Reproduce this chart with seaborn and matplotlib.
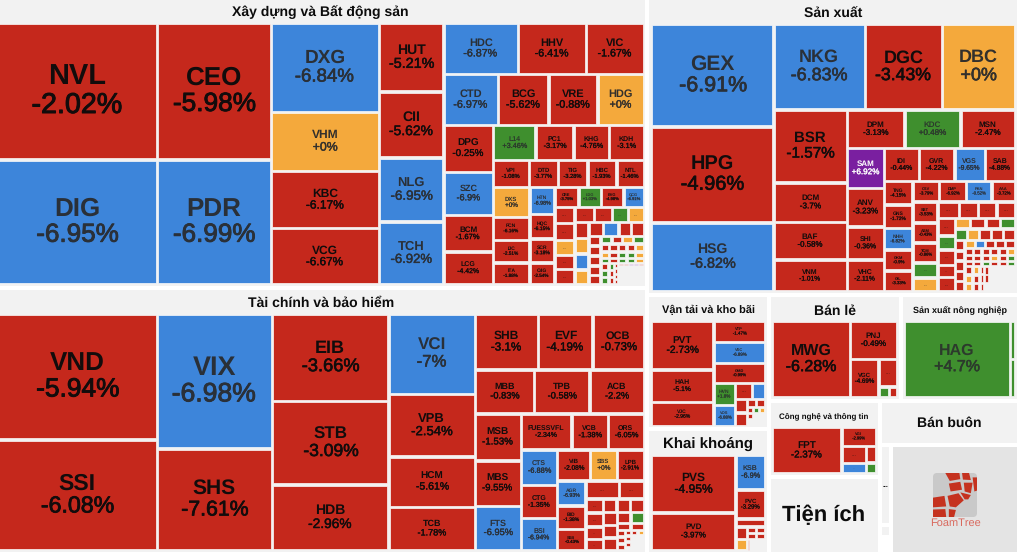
import pandas as pd
import seaborn as sns
import matplotlib.pyplot as plt
import matplotlib.patheffects as pe
from matplotlib.patches import FancyBboxPatch, Polygon

# Xay dung va Bat dong san
xd_names = ['NVL', 'DIG', 'CEO', 'PDR', 'DXG', 'VHM', 'KBC', 'VCG', 'HUT', 'CII', 'NLG', 'TCH',
            'HDC', 'HHV', 'VIC', 'CTD', 'BCG', 'VRE', 'HDG', 'DPG', 'SZC', 'BCM', 'LCG',
            'L14', 'PC1', 'KHG', 'KDH', 'VPI', 'DTD', 'TIG', 'HBC', 'NTL',
            'DXS', 'FCN', 'IJC', 'ITA', 'HTN', 'HQC', 'SCR', 'C4G', 'CRE', 'LDG', 'EVG', 'QCG']
xd_pct = [-2.02, -6.95, -5.98, -6.99, -6.84, 0, -6.17, -6.67, -5.21, -5.62, -6.95, -6.92,
          -6.87, -6.41, -1.67, -6.97, -5.62, -0.88, 0, -0.25, -6.9, -1.67, -4.42,
          3.46, -3.17, -4.76, -3.1, -1.08, -3.77, -3.28, -1.93, -1.46,
          0, -6.16, -2.51, -1.88, -6.98, -6.15, -3.18, -2.54, -3.75, 1.03, -4.98, -6.91]
xd_size = [21650, 19700, 15440, 14070, 9535, 6290, 6130, 6000, 4400, 4257, 4096, 4018,
           3777, 3448, 2915, 2780, 2575, 2500, 2346, 2300, 2130, 1780, 1624,
           1466, 1311, 1207, 1207, 972, 783, 797, 770, 742,
           1080, 810, 810, 785, 675, 600, 600, 545, 468, 439, 439, 400,
           320, 340, 300, 280, 306, 292, 270, 240, 240, 220, 215, 220, 205,
           203, 210, 175, 175, 115, 120, 120, 115, 110,
           80, 80, 80, 80, 69, 69, 69, 69, 69, 55, 55, 55, 55, 55, 45, 45, 45, 45, 45,
           57, 57, 57, 35, 35, 35, 26, 26, 26, 26, 14, 14, 14, 14, 14, 462]
xd_state = ('rb rb borr rrbb brr brro rbrr grrr rrrrr orrr brrr rgrb '
            'rrorr rrgo robo rbrr rrrrr grog rrrro orggo grggo rgg grr rrrr rrppr _')
xd_plan = [2, 2, 4, 4, [3, 4, [4, [4, 5, [4, 4, [4, [5, [4, [4, [4, [5, [4, 5, 5, 5, [3, 3, 4, [5, 1]]]]]]]]]]]]]]

# Tai chinh va bao hiem
tc_names = ['VND', 'SSI', 'VIX', 'SHS', 'EIB', 'STB', 'HDB', 'VCI', 'VPB', 'HCM', 'TCB',
            'SHB', 'EVF', 'OCB', 'MBB', 'TPB', 'ACB', 'MSB', 'MBS', 'FTS', 'FUESSVFL', 'VCB', 'ORS',
            'CTS', 'CTG', 'BSI', 'VIB', 'SBS', 'LPB', 'AGR', 'BID', 'SSB']
tc_pct = [-5.94, -6.08, -6.98, -7.61, -3.66, -3.09, -2.96, -7, -2.54, -5.61, -1.78,
          -3.1, -4.19, -0.73, -0.83, -0.58, -2.2, -1.53, -9.55, -6.95, -2.34, -1.38, -6.05,
          -6.88, -1.35, -6.94, -2.08, 0, -2.91, -6.93, -1.38, -0.43]
tc_size = [19860, 17480, 15377, 11600, 10092, 9663, 7575, 6863, 5375, 4300, 3724,
           3484, 3014, 2820, 2596, 2442, 2376, 2116, 2070, 2016, 1793, 1296, 1278,
           1278, 1188, 1163, 1006, 824, 824, 700, 672, 596,
           595, 437, 247, 240, 209, 195, 187, 187, 187, 182, 182, 182,
           143, 143, 91, 91, 52, 52, 52, 36, 36, 36, 36, 72, 36, 72, 61]
tc_state = ('rr br rrr brrr rrr rrr rrb rrr brb ror brr '
            'rr rrrr rrr rrr rg rr rrr rro r_ r_ _')
tc_plan = [2, 2, 3, 4, [3, 3, [3, [3, [3, [3, [3, [2, [4, [3, [3, [2, 2, [3, [3, 2, 2, 1]]]]]]]]]]]]]]

# San xuat
sx_names = ['GEX', 'HPG', 'HSG', 'NKG', 'DGC', 'DBC', 'BSR', 'DCM', 'BAF', 'VNM', 'DPM', 'KDC', 'MSN',
            'SAM', 'ANV', 'SHI', 'VHC', 'IDI', 'GVR', 'VGS', 'SAB', 'TNG', 'GNS', 'NHH', 'GKM', 'GIL',
            'CSV', 'DMP', 'PAN', 'AAA', 'SBT', 'ASM', 'TCM']
sx_pct = [-6.91, -4.96, -6.82, -6.83, -3.43, 0, -1.57, -3.7, -0.58, -1.01, -3.13, 0.48, -2.47,
          6.92, -3.23, -0.36, -2.11, -0.44, -4.22, -9.65, -4.88, -4.15, -1.72, -6.82, -0.9, -3.33,
          -3.79, -6.92, -0.52, -3.72, -3.53, -0.43, -0.86]
sx_size = [12520, 11693, 8380, 7808, 6607, 6246, 5329, 2870, 2752, 2321, 2214, 2137, 2110,
           1472, 1417, 1214, 1170, 1162, 1155, 1006, 1000, 674, 674, 617, 603, 597,
           543, 543, 523, 488, 525, 500, 500, 375, 345,
           347, 314, 305, 310, 298, 235, 265, 210, 240,
           160, 160, 155, 158, 139, 139, 139, 139, 139, 100, 100, 100, 100, 100,
           80, 80, 80, 80, 80, 58, 58, 58, 58, 58, 58, 50, 50, 50, 50, 50, 50, 42, 42, 42, 42, 42, 42,
           67, 67, 67, 58, 58, 58, 42, 42, 42, 33, 33, 33, 680]
sx_state = ('brb bro rrrr rgr prrr rrbr rrbrr rrbr rrr go '
            'rrrr rgrrr orrg gorrr rrrrr obrrr rrrrro rrrorg rrgrrg roo orr rrr rr_ _')
sx_plan = [3, [3, [4, [3, [4, [4, [5, [4, [5, [4, [5, [4, 5, [5, [5, 6, 6, 6, [3, 3, 3, 3, 1]]]]]]]]]]]]]]]

# Van tai va kho bai
vt_names = ['PVT', 'HAH', 'VJC', 'VTP', 'VSC', 'GMD', 'HVN', 'VOS']
vt_pct = [-2.73, -5.1, -2.96, -1.47, -6.89, -0.99, 1.8, -6.88]
vt_size = [2897, 1909, 1412, 1040, 1025, 975, 456, 430, 256, 190, 151, 151, 69, 69, 35, 35, 35, 35, 69, 108]
vt_state = 'rrr rbr gb rb rr rr rgo r_ _'
vt_plan = [3, [1, 1, 1, [2, [2, [2, [2, 3, 2, 1]]]]]]

# Khai khoang
kk_names = ['PVS', 'PVD', 'KSB', 'PVC']
kk_pct = [-4.95, -3.97, -6.9, -3.29]
kk_size = [4798, 3152, 1000, 820, 226, 143, 124, 60, 60, 52, 52, 30, 166]
kk_state = 'rr br r ro rr rr r_'
kk_plan = [2, [1, 1, 1, [2, [2, 2, 2]]]]

# Ban le
bl_names = ['MWG', 'PNJ', 'VGC']
bl_pct = [-6.28, -0.49, -4.69]
bl_size = [5730, 1731, 1058, 480, 108, 84]
bl_state = 'rrrrgr'
bl_plan = [1, [1, [1, [1, 2]]]]

# San xuat nong nghiep
nn_names = ['HAG']
nn_pct = [4.7]
nn_size = [7810, 200, 200]
nn_state = 'ggg'
nn_plan = [1, 2]

# Cong nghe va thong tin
cn_names = ['FPT', 'VGI']
cn_pct = [-2.37, -2.99]
cn_size = [3092, 635, 396, 247, 157, 105]
cn_state = 'rrrbrg'
cn_plan = [1, [1, [2, 2]]]

# Top level panels
panel_titles = ['Xây dựng và Bất động sản', 'Tài chính và bảo hiểm', 'Sản xuất', 'Vận tải và kho bãi',
                'Khai khoáng', 'Bán lẻ', 'Sản xuất nông nghiệp', 'Công nghệ và thông tin',
                'Tiện ích', 'Bán buôn', '...', '', None, 'logo']
panel_sizes = [190168, 173831, 110707, 16275, 15065, 13992, 12561, 8436, 8547, 6138, 920, 138, 195, 13952]
panel_plan = [2, [1, [2, [2, [2, [1, [3, 1]]]]]]]
title_px = [14, 14, 13.5, 11.5, 15, 14, 9.5, 8.5, 22, 14, 7, 0, 0, 0]
title_h = [25, 25, 26, 25, 24.5, 25, 25, 25, 0, 0, 0, 0, 0, 0]
title_dy = [1, 1, 1, 0.5, 0, 1.5, 1.5, 1.5, 0, 0, 0, 0, 0, 0]

panel_cells = {
    0: (xd_names, xd_pct, xd_size, xd_state, xd_plan),
    1: (tc_names, tc_pct, tc_size, tc_state, tc_plan),
    2: (sx_names, sx_pct, sx_size, sx_state, sx_plan),
    3: (vt_names, vt_pct, vt_size, vt_state, vt_plan),
    4: (kk_names, kk_pct, kk_size, kk_state, kk_plan),
    5: (bl_names, bl_pct, bl_size, bl_state, bl_plan),
    6: (nn_names, nn_pct, nn_size, nn_state, nn_plan),
    7: (cn_names, cn_pct, cn_size, cn_state, cn_plan),
}

colors = dict(zip('rbogp', sns.color_palette(['#c5281c', '#3d85da', '#f4a93c', '#3f8f2e', '#7a1fa0'])))
text_colors = {'r': '#120c0c', 'b': '#2a3038', 'o': '#33302c', 'g': '#2c3a2c', 'p': '#ffffff'}


def count(node):
    return node if isinstance(node, int) else sum(count(c) for c in node)


def place(node, box, horiz, sizes, first, out):
    # slice the box by the summed size of each child
    if node == 1:
        out.append(box)
        return
    children = [1] * node if isinstance(node, int) else node
    total = sum(sizes[first:first + count(node)])
    x0, y0, x1, y1 = box
    pos = x0 if horiz else y0
    for c in children:
        n = count(c)
        share = sum(sizes[first:first + n]) / total
        if horiz:
            step = (x1 - x0) * share
            sub = (pos, y0, pos + step, y1)
        else:
            step = (y1 - y0) * share
            sub = (x0, pos, x1, pos + step)
        place(c, sub, not horiz, sizes, first, out)
        pos += step
        first += n


def shrink(box, gap):
    x0, y0, x1, y1 = box
    g = min(gap, 0.22 * (x1 - x0), 0.22 * (y1 - y0))
    return x0 + g, y0 + g, x1 - g, y1 - g


sns.set_theme(style='white')
plt.rcParams['font.family'] = ['Liberation Sans', 'DejaVu Sans']
plt.rcParams['text.hinting'] = 'no_hinting'
plt.rcParams['text.hinting_factor'] = 1

fig = plt.figure(figsize=(10.2, 5.55), dpi=100, facecolor='white')
ax = fig.add_axes([0, 0, 1, 1])
ax.set_xlim(0, 1020)
ax.set_ylim(555, 0)
ax.axis('off')

panel_boxes = []
place(panel_plan, (-6, -3, 1019, 554), True, panel_sizes, 0, panel_boxes)

rows = []
panels = []
for i, box in enumerate(panel_boxes):
    x0, y0, x1, y1 = shrink(box, 2)
    title = panel_titles[i]
    if title is None:
        continue
    panels.append(dict(x=x0, y=y0, w=x1 - x0, h=y1 - y0, color='#e4e4e4' if title == 'logo' else '#f2f2f2'))
    if i in panel_cells:
        names, pct, size, state, plan = panel_cells[i]
        state = state.replace(' ', '')
        assert len(size) == count(plan) == len(state), (title, len(size), count(plan), len(state))
        boxes = []
        place(plan, (x0 + 1.7, y0 + title_h[i] - 1.3, x1 - 1.7, y1 - 1.7), True, size, 0, boxes)
        for j, b in enumerate(boxes):
            if state[j] == '_':
                continue
            cx0, cy0, cx1, cy1 = shrink(b, 1.25)
            rows.append(dict(x=cx0, y=cy0, w=cx1 - cx0, h=cy1 - cy0, state=state[j],
                             name=names[j] if j < len(names) else '...',
                             pct=pct[j] if j < len(pct) else None))
    if title and title != 'logo':
        cy = y0 + title_h[i] / 2 + title_dy[i] if title_h[i] else (y0 + y1) / 2
        ax.text((x0 + x1) / 2, cy, title, ha='center', va='center', fontweight='bold',
                fontsize=title_px[i] * 0.72, color='#0c0c0c', zorder=5)

panel_df = pd.DataFrame(panels)
cell_df = pd.DataFrame(rows)

ax.bar(panel_df.x, panel_df.h, width=panel_df.w, bottom=panel_df.y, align='edge',
       color=panel_df.color, linewidth=0, zorder=1)
ax.bar(cell_df.x, cell_df.h, width=cell_df.w, bottom=cell_df.y, align='edge',
       color=[colors[s] for s in cell_df.state], edgecolor='#fbfbfb', linewidth=0.5, zorder=2)

for r in cell_df.itertuples():
    tc = text_colors[r.state]
    if pd.isna(r.pct):
        if r.w > 13 and r.h > 7:
            ax.text(r.x + r.w / 2, r.y + r.h / 2, '...', ha='center', va='center', fontsize=min(r.h * 0.3, 4.5),
                    color=tc, alpha=0.7, zorder=3)
        continue
    label = f'{r.pct:+g}%'
    em = max(0.65 * len(r.name), 0.53 * len(label))
    px = min(0.75 * r.w / em, 0.46 * (r.h + 2.5) / 2.2)
    cx, cy = r.x + r.w / 2, r.y + r.h / 2
    ax.text(cx, cy - 0.5 * px, r.name, ha='center', va='center', fontweight='bold',
            fontsize=px * 0.72, color=tc, zorder=3)
    ax.text(cx, cy + 0.5 * px, label, ha='center', va='center', fontsize=px * 0.72, color=tc, zorder=3,
            path_effects=[pe.withStroke(linewidth=px * 0.025, foreground=tc)])

# FoamTree badge in the grey corner panel
lx, ly, ls = 933, 473, 44
ax.add_patch(FancyBboxPatch((lx, ly), ls, ls, boxstyle='round,pad=0,rounding_size=4', fc='#c9c9c9', ec='none', zorder=3))
badge = [[(.28, 0), (.6, 0), (.62, .14), (.38, .18)], [(.66, 0), (.82, 0), (.86, .16), (.68, .15)],
         [(.36, .24), (.62, .2), (.66, .38), (.4, .42)], [(.7, .22), (.9, .22), (.86, .46), (.72, .42)],
         [(.9, .1), (1, .1), (1, .4), (.94, .42)], [(0, .56), (.26, .52), (.3, .76), (0, .78)],
         [(.33, .52), (.58, .46), (.7, .62), (.52, .78), (.38, .76)], [(.62, .44), (.86, .5), (.8, .6), (.72, .6)],
         [(0, .83), (.28, .82), (.3, 1), (0, 1)], [(.36, .82), (.52, .84), (.48, 1), (.36, 1)]]
for shape in badge:
    ax.add_patch(Polygon([(lx + px * ls, ly + py * ls) for px, py in shape], fc='#c5321f', ec='none', zorder=4))
ax.text(lx + ls / 2, ly + ls + 6, 'FoamTree', ha='center', va='center', fontsize=8.2, color='#d9695e', zorder=4)

sns.despine(ax=ax, left=True, bottom=True)
fig.savefig('out.png', dpi=100)
